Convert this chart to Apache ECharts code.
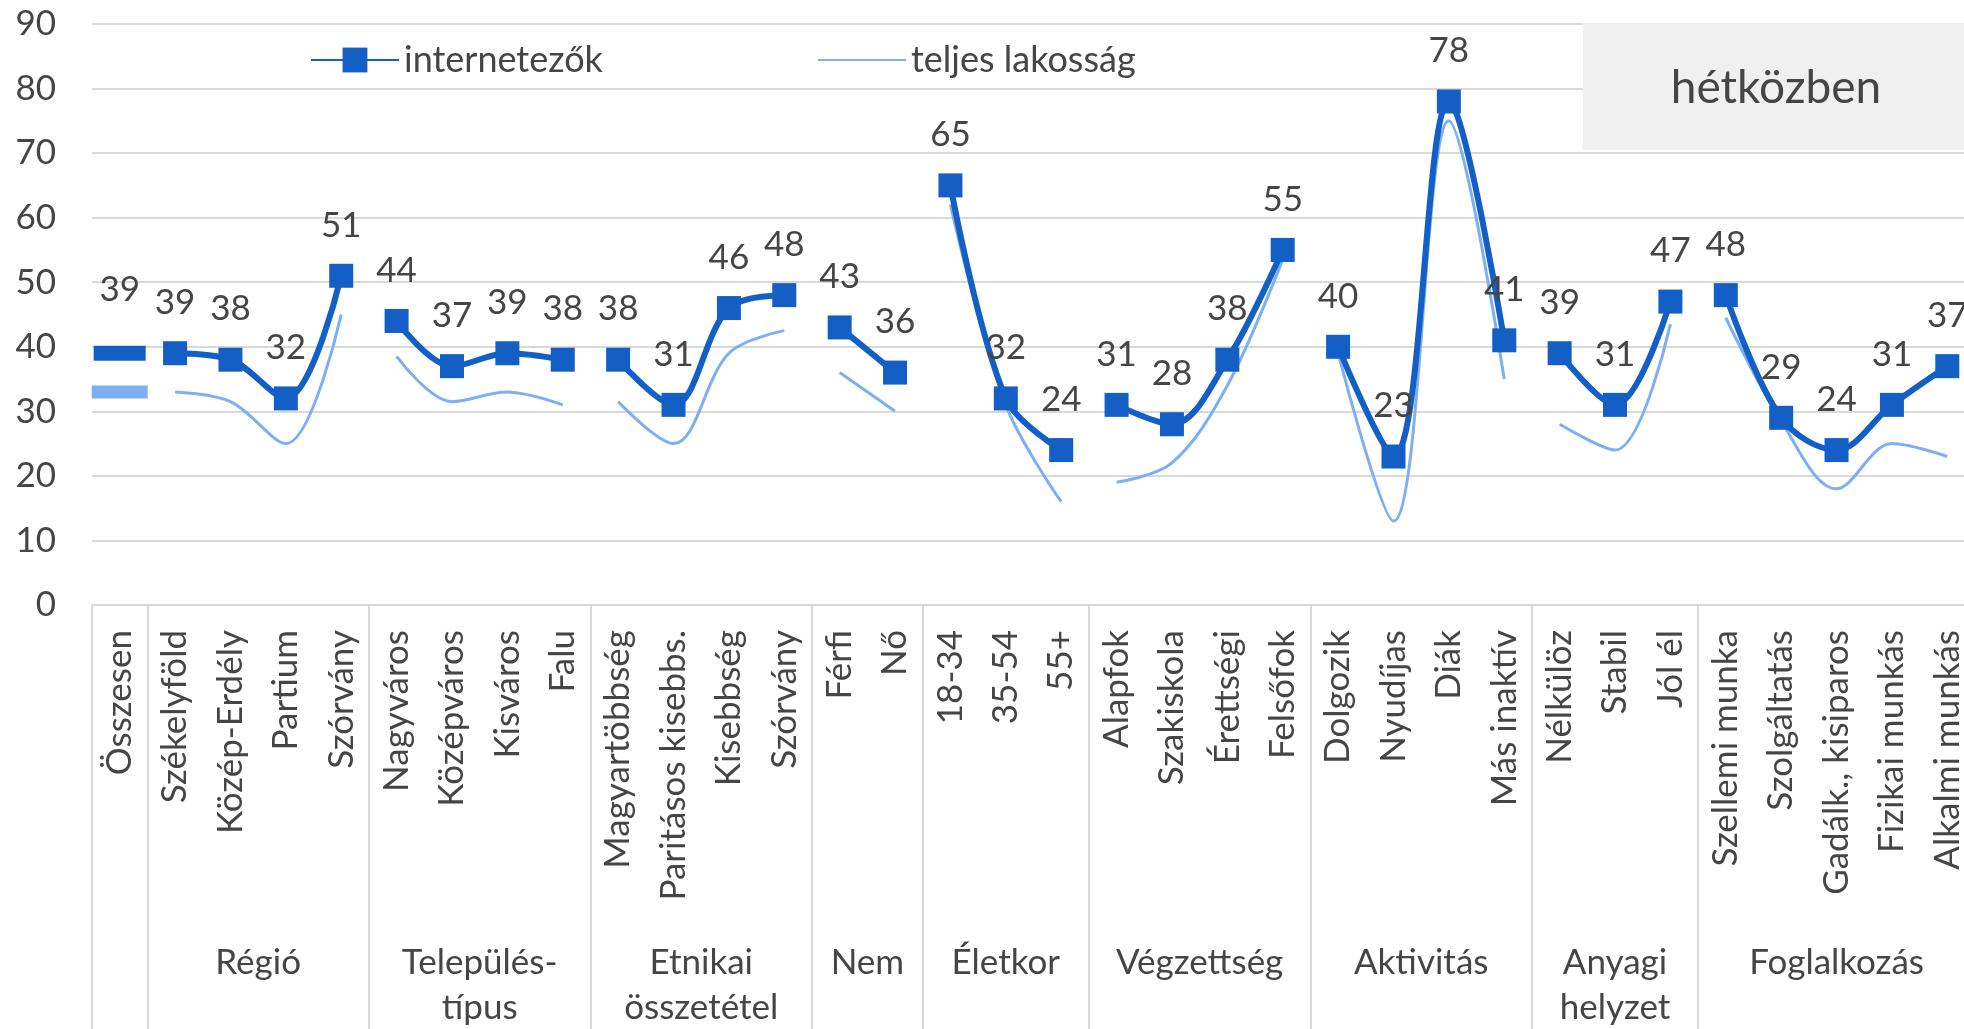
<!DOCTYPE html>
<html>
<head>
  <meta charset="utf-8">
  <script src="https://cdn.jsdelivr.net/npm/echarts@6/dist/echarts.min.js"></script>
</head>
<body style="margin: 0">
  <div id="container" style="width: 1964px; height: 1029px"></div>
  <script>
    // categories, in the order they appear on the axis
    var categories = [
      'Összesen',
      'Székelyföld', 'Közép-Erdély', 'Partium', 'Szórvány',
      'Nagyváros', 'Középváros', 'Kisváros', 'Falu',
      'Magyartöbbség', 'Paritásos kisebbs.', 'Kisebbség', 'Szórvány',
      'Férfi', 'Nő',
      '18-34', '35-54', '55+',
      'Alapfok', 'Szakiskola', 'Érettségi', 'Felsőfok',
      'Dolgozik', 'Nyudíjas', 'Diák', 'Más inaktív',
      'Nélkülöz', 'Stabil', 'Jól él',
      'Szellemi munka', 'Szolgáltatás', 'Gadálk., kisiparos', 'Fizikai munkás', 'Alkalmi munkás'
    ];
    var groupNames = ['', 'Régió', 'Település-\ntípus', 'Etnikai\nösszetétel', 'Nem', 'Életkor',
      'Végzettség', 'Aktivitás', 'Anyagi\nhelyzet', 'Foglalkozás'];
    var groupSizes = [1, 4, 4, 4, 2, 3, 4, 4, 3, 5];

    var internetezok = [39, 39, 38, 32, 51, 44, 37, 39, 38, 38, 31, 46, 48, 43, 36, 65, 32, 24,
      31, 28, 38, 55, 40, 23, 78, 41, 39, 31, 47, 48, 29, 24, 31, 37];
    var teljesLakossag = [33, 33, 31.5, 25, 45, 38.5, 31.5, 33, 31, 31.5, 25, 39, 42.5, 36, 30, 62, 31, 16,
      19, 22, 34, 53.5, 39, 13, 75, 35, 28, 24, 43.5, 44.5, 28.5, 18, 25, 23];

    var yMin = 0, yMax = 90, yStep = 10;

    var FONT = 'Lato';
    var TEXT = '#454545';
    var DARK = '#135fc6';
    var LIGHT = '#7cb0f2';
    var GRID = '#d9d9d9';

    // group boundaries on a 0..n scale, and the middle of every named group
    var bounds = [0];
    groupSizes.forEach(function (s) { bounds.push(bounds[bounds.length - 1] + s); });
    var centers = [], centerNames = [];
    for (var g = 0; g < groupSizes.length; g++) {
      if (!groupNames[g]) continue;
      centers.push((bounds[g] + bounds[g + 1]) / 2);
      centerNames.push(groupNames[g]);
    }

    function part(arr, g) {
      return arr.map(function (v, i) {
        return (i >= bounds[g] && i < bounds[g + 1]) ? v : null;
      });
    }

    var labelStyle = { fontSize: 35, fontFamily: FONT, color: TEXT };

    var series = [];
    // one segment per group, so the lines break between groups
    for (var g = 1; g < groupSizes.length; g++) {
      series.push({
        name: 'internetezők', type: 'line', smooth: 0.35, z: 3,
        symbol: 'rect', symbolSize: 24,
        lineStyle: { width: 6, color: DARK }, itemStyle: { color: DARK },
        label: Object.assign({ show: true, position: 'top', distance: 21 }, labelStyle),
        data: part(internetezok, g)
      });
    }
    for (var g = 1; g < groupSizes.length; g++) {
      series.push({
        name: 'teljes lakosság', type: 'line', smooth: 0.35, z: 2,
        symbol: 'none',
        lineStyle: { width: 3, color: LIGHT }, itemStyle: { color: LIGHT },
        data: part(teljesLakossag, g)
      });
    }
    // the total is a single point, drawn as a dash
    series.push({
      name: 'internetezők', type: 'line', z: 3,
      symbol: 'rect', symbolSize: [52, 15],
      itemStyle: { color: DARK },
      label: Object.assign({ show: true, position: 'top', distance: 39 }, labelStyle),
      data: part(internetezok, 0)
    });
    series.push({
      name: 'teljes lakosság', type: 'line', z: 2,
      symbol: 'rect', symbolSize: [56, 13],
      itemStyle: { color: LIGHT },
      data: part(teljesLakossag, 0)
    });

    var legendBase = {
      top: 42, padding: 0, itemWidth: 88, itemHeight: 31, itemGap: 0,
      textStyle: { fontSize: 36, fontFamily: FONT, color: TEXT }
    };

    var chart = echarts.init(document.getElementById('container'));
    chart.setOption({
      animation: false,
      backgroundColor: '#ffffff',
      legend: [
        Object.assign({ left: 310, data: ['internetezők'] }, legendBase),
        Object.assign({ left: 817, data: [{ name: 'teljes lakosság', itemStyle: { color: 'rgba(0,0,0,0)' } }] }, legendBase)
      ],
      grid: { left: 92, top: 24, width: 1883, height: 581, containLabel: false, outerBoundsMode: 'none' },
      xAxis: [
        {
          type: 'category', data: categories,
          axisLine: { lineStyle: { color: GRID, width: 2 } },
          axisTick: { show: false },
          axisLabel: Object.assign({ interval: 0, rotate: 90, margin: 25 }, labelStyle)
        },
        {
          type: 'value', min: 0, max: categories.length, position: 'bottom',
          axisLine: { show: false },
          splitLine: { show: false },
          axisTick: { show: true, customValues: bounds, length: 430, lineStyle: { color: GRID, width: 2 } },
          axisLabel: Object.assign({
            customValues: centers, margin: 335, lineHeight: 45, align: 'center',
            formatter: function (v) {
              for (var i = 0; i < centers.length; i++) {
                if (Math.abs(centers[i] - v) < 1e-6) return centerNames[i];
              }
              return '';
            }
          }, labelStyle)
        }
      ],
      yAxis: {
        type: 'value', min: yMin, max: yMax, interval: yStep,
        axisLine: { show: false }, axisTick: { show: false },
        splitLine: { lineStyle: { color: GRID, width: 2 } },
        axisLabel: Object.assign({ margin: 36 }, labelStyle)
      },
      graphic: [
        { type: 'rect', left: 1583, top: 23, z: 100, shape: { width: 400, height: 127 }, style: { fill: '#f0f0f0' } },
        { type: 'text', x: 1776, y: 88, z: 101, style: { text: 'hétközben', font: '46px Lato', fill: TEXT, align: 'center', verticalAlign: 'middle' } }
      ],
      series: series
    });
  </script>
</body>
</html>
